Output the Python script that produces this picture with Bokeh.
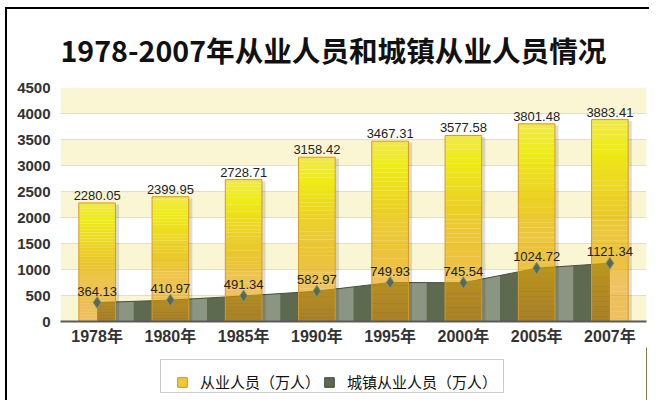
from bokeh.plotting import figure
from bokeh.layouts import column
from bokeh.models import (Range1d, FixedTicker, ColumnDataSource, Legend, LegendItem,
                          BoxAnnotation)
from bokeh.core.properties import value
from bokeh.embed import file_html
from bokeh.resources import INLINE
import numpy as np

# ---- data ----
categories = ["1978年", "1980年", "1985年", "1990年", "1995年", "2000年", "2005年", "2007年"]
employed = [2280.05, 2399.95, 2728.71, 3158.42, 3467.31, 3577.58, 3801.48, 3883.41]
urban = [364.13, 410.97, 491.34, 582.97, 749.93, 745.54, 1024.72, 1121.34]
y_ticks = [0, 500, 1000, 1500, 2000, 2500, 3000, 3500, 4000, 4500]
title_text = "1978-2007年从业人员和城镇从业人员情况"
legend_labels = ["从业人员（万人）", "城镇从业人员（万人）"]

xpos = list(range(len(categories)))
BAR_W = 0.5
FIG_W = 642

p = figure(width=FIG_W, height=338, output_backend="svg", toolbar_location=None,
           x_range=Range1d(-0.5, len(categories) - 0.5), y_range=Range1d(0, 4500),
           min_border_left=53, min_border_right=3, min_border_top=76, min_border_bottom=26)
p.outline_line_color = None
p.background_fill_color = "white"
p.border_fill_color = "white"

# title
p.title.text = title_text
p.title.align = "left"
p.title.offset = 0
p.title.text_font = "Noto Sans CJK SC"
p.title.text_font_size = "28.6px"
p.title.text_font_style = "bold"
p.title.text_color = "#111111"
p.title.standoff = 35

# alternating background bands
for b in y_ticks[:-1:2]:
    p.add_layout(BoxAnnotation(bottom=b, top=b + 500, fill_color="#faf6d4",
                               fill_alpha=1.0, line_color=None, level="image"))

# axes
p.xaxis.ticker = FixedTicker(ticks=xpos)
p.xaxis.major_label_overrides = {i: c for i, c in enumerate(categories)}
p.yaxis.ticker = FixedTicker(ticks=y_ticks)
for ax in (p.xaxis, p.yaxis):
    ax.major_tick_line_color = None
    ax.minor_tick_line_color = None
    ax.major_label_text_font = "'Liberation Sans', 'Noto Sans CJK SC'"
    ax.major_label_text_font_style = "bold"
    ax.major_label_text_color = "#333333"
p.yaxis.axis_line_color = None
p.yaxis.major_label_text_font_size = "15px"
p.yaxis.major_label_standoff = 4
p.xaxis.axis_line_color = "#5a5a5a"
p.xaxis.axis_line_width = 2
p.xaxis.major_label_text_font_size = "16px"
p.xaxis.major_label_standoff = 0
p.xgrid.grid_line_color = None
p.ygrid.grid_line_color = "#e2dec8"

# urban area (dark) with lighter bands in the left half of each gap
p.varea(x=xpos, y1=0, y2=urban, fill_color="#5d6a50")
for i in range(len(categories) - 1):
    xa = [i + BAR_W / 2, i + 0.5]
    ya = list(np.interp(xa, xpos, urban))
    p.varea(x=xa, y1=0, y2=ya, fill_color="#8b9582")
p.line(x=xpos, y=urban, line_color="#46513c", line_width=1)

# bar shadows (right side)
p.vbar(x=[x + BAR_W / 2 + 0.025 for x in xpos], bottom=0,
       top=[v - 30 for v in employed], width=0.05,
       fill_color="#000000", fill_alpha=0.13, line_color=None)

# gradient bars
stops = [(0.0, (230, 146, 10), 0.55), (0.5, (230, 187, 2), 0.8),
         (0.86, (238, 236, 22), 1.0), (1.0, (240, 232, 80), 1.0)]


def grad(t):
    for (t0, c0, a0), (t1, c1, a1) in zip(stops[:-1], stops[1:]):
        if t <= t1:
            f = (t - t0) / (t1 - t0)
            c = tuple(int(round(c0[k] + (c1[k] - c0[k]) * f)) for k in range(3))
            return "#%02x%02x%02x" % c, a0 + (a1 - a0) * f
    return "#%02x%02x%02x" % stops[-1][1], stops[-1][2]


N = 40
sx, sb, st, sc, sa = [], [], [], [], []
for i, v in zip(xpos, employed):
    for k in range(N):
        t0, t1 = k / N, (k + 1) / N
        c, a = grad((t0 + t1) / 2)
        sx.append(i); sb.append(v * t0); st.append(v * t1); sc.append(c); sa.append(a)
p.vbar(x="x", bottom="b", top="t", width=BAR_W, fill_color="c", fill_alpha="a",
       line_color=None, source=ColumnDataSource(dict(x=sx, b=sb, t=st, c=sc, a=sa)))
p.vbar(x=xpos, bottom=0, top=employed, width=BAR_W, fill_alpha=0,
       line_color="#d89a22", line_width=1)

# markers
p.scatter(x=xpos, y=urban, marker="diamond", size=12, fill_color="#5a6a4e",
          line_color="#8a9784", line_width=1)

# value labels
lbl_font = value("Liberation Sans")
p.text(x=xpos, y=employed, text=["%.2f" % v for v in employed], text_align="center",
       text_baseline="bottom", y_offset=-3, text_font=lbl_font,
       text_font_size="13px", text_color="#222222")
p.text(x=xpos, y=urban, text=["%.2f" % v for v in urban], text_align="center",
       text_baseline="bottom", y_offset=-7, text_font=lbl_font,
       text_font_size="13px", text_color="#222222")

# ---- legend strip (separate figure below the chart) ----
lf = figure(width=FIG_W, height=53, output_backend="svg", toolbar_location=None,
            x_range=Range1d(0, 1), y_range=Range1d(0, 1),
            x_axis_type=None, y_axis_type=None,
            min_border_left=0, min_border_right=0, min_border_top=0, min_border_bottom=0)
lf.outline_line_color = None
lf.grid.visible = False
lf.border_fill_color = "white"
# proxy renderers placed outside the visible range (only their legend glyphs show)
r1 = lf.vbar(x=[10], top=[1], width=0.5, fill_color="#efc93a", line_color="#d09020")
r2 = lf.vbar(x=[10], top=[1], width=0.5, fill_color="#5d6a50", line_color="#3f4a36")
# legend box outline
lf.add_layout(BoxAnnotation(left=100, right=443, bottom=8, top=41,
                            left_units="screen", right_units="screen",
                            bottom_units="screen", top_units="screen",
                            fill_color="white", fill_alpha=1, line_color="#555555",
                            line_width=1, level="underlay"))
legend = Legend(items=[LegendItem(label=legend_labels[0], renderers=[r1]),
                       LegendItem(label=legend_labels[1], renderers=[r2])],
                orientation="horizontal", location=(116, 8))
legend.label_text_font = "Noto Sans CJK SC"
legend.label_text_font_size = "15px"
legend.label_text_color = "#111111"
legend.glyph_width = 12
legend.glyph_height = 12
legend.label_height = 12
legend.label_standoff = 12
legend.spacing = 3
legend.padding = 6
legend.border_line_color = None
legend.background_fill_alpha = 0
lf.add_layout(legend, "center")

layout = column(p, lf, spacing=0, margin=(7, 0, 0, 5),
                styles={"border-left": "2px solid #000", "border-top": "2px solid #000"})

open("out.html", "w").write(file_html(layout, INLINE))
